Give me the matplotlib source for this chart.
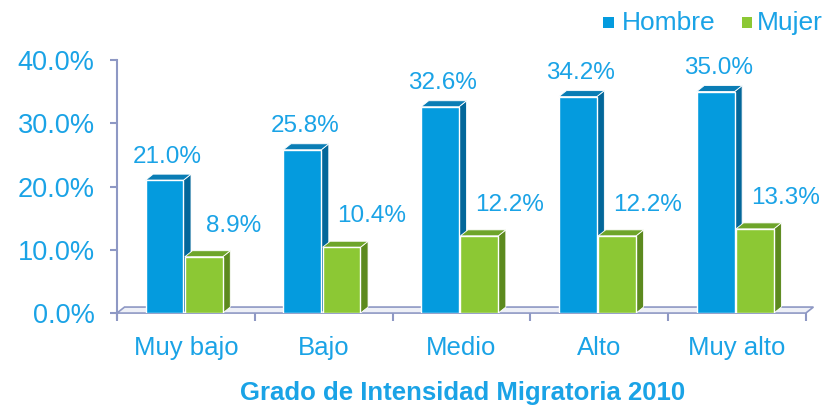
import matplotlib
matplotlib.use("Agg")
import matplotlib.pyplot as plt
from matplotlib.patches import Polygon
import numpy as np

categories = ["Muy bajo", "Bajo", "Medio", "Alto", "Muy alto"]
hombre = [21.0, 25.8, 32.6, 34.2, 35.0]
mujer = [8.9, 10.4, 12.2, 12.2, 13.3]
yticks = [0, 10, 20, 30, 40]
ytick_labels = ["0.0%", "10.0%", "20.0%", "30.0%", "40.0%"]
series_names = ["Hombre", "Mujer"]

TXT = "#1AA3E6"
BLUE = "#049BDE"
BLUE_SIDE = "#03679A"
BLUE_TOP = "#0A7DB5"
GREEN = "#8CC834"
GREEN_SIDE = "#5C8A1E"
GREEN_TOP = "#6EA52A"
AXC = "#8E98C4"

plt.rcParams['font.family'] = ['Liberation Sans', 'DejaVu Sans']

fig = plt.figure(figsize=(8.26, 4.05), dpi=100)
ax = fig.add_axes([0.1416, 0.227, 0.834, 0.625])
ax.set_xlim(0, 5)
ax.set_ylim(0, 40)

x = np.arange(len(categories)) + 0.5
w = 0.275
dx, dy = 0.055, 0.95

def bar3d(xc, h, face, side, top):
    x0, x1 = xc - w / 2, xc + w / 2
    ax.add_patch(Polygon([(x1, 0), (x1 + dx, dy), (x1 + dx, h + dy), (x1, h)],
                         closed=True, facecolor=side, edgecolor="white", lw=0.6, zorder=3))
    ax.add_patch(Polygon([(x0, h), (x0 + dx, h + dy), (x1 + dx, h + dy), (x1, h)],
                         closed=True, facecolor=top, edgecolor="white", lw=0.6, zorder=3))
    ax.bar(xc, h, width=w, color=face, edgecolor="white", linewidth=1.0, zorder=4)

# floor
ax.add_patch(Polygon([(0, 0), (0 + dx, dy), (5 + dx, dy), (5, 0)], closed=True,
                     facecolor="#EEF0F7", edgecolor=AXC, lw=1.2, zorder=1, clip_on=False))

xb = x - 0.155
xg = x + 0.13
for i in range(len(categories)):
    bar3d(xb[i], hombre[i], BLUE, BLUE_SIDE, BLUE_TOP)
    bar3d(xg[i], mujer[i], GREEN, GREEN_SIDE, GREEN_TOP)
    ax.text(xb[i] + 0.02, hombre[i] + 3.7, f"{hombre[i]:.1f}%", ha="center", va="center",
            color=TXT, fontsize=17.5)
    ax.text(xg[i] + 0.22, mujer[i] + 4.9, f"{mujer[i]:.1f}%", ha="center", va="center",
            color=TXT, fontsize=17.5)

for s in ["top", "right", "bottom"]:
    ax.spines[s].set_visible(False)
ax.spines["left"].set_color(AXC)
ax.spines["left"].set_linewidth(1.5)
ax.spines["left"].set_bounds(-0.8, 40)
ax.set_yticks(yticks)
ax.set_yticklabels(ytick_labels)
ax.tick_params(axis="y", colors=AXC, labelcolor=TXT, labelsize=19.5, length=5, width=1.5, pad=11)

ax.set_xticks(range(0, 6))
ax.set_xticklabels([])
ax.tick_params(axis="x", colors=AXC, length=6, width=1.5)
ax.spines["bottom"].set_visible(False)
for i, c in enumerate(categories):
    ax.text(x[i], -3.7, c, ha="center", va="top", color=TXT, fontsize=18.5)

fig.text(0.56, 0.03, "Grado de Intensidad Migratoria 2010", ha="center", va="center",
         color=TXT, fontsize=18.5, fontweight="bold")

# legend
fig.patches.append(Polygon([(0.730, 0.931), (0.743, 0.931), (0.743, 0.958), (0.730, 0.958)],
                           closed=True, transform=fig.transFigure, facecolor=BLUE))
fig.text(0.753, 0.942, series_names[0], ha="left", va="center", color=TXT, fontsize=19)
fig.patches.append(Polygon([(0.898, 0.931), (0.910, 0.931), (0.910, 0.958), (0.898, 0.958)],
                           closed=True, transform=fig.transFigure, facecolor=GREEN))
fig.text(0.9165, 0.942, series_names[1], ha="left", va="center", color=TXT, fontsize=19)

fig.savefig("out.png", dpi=100)
